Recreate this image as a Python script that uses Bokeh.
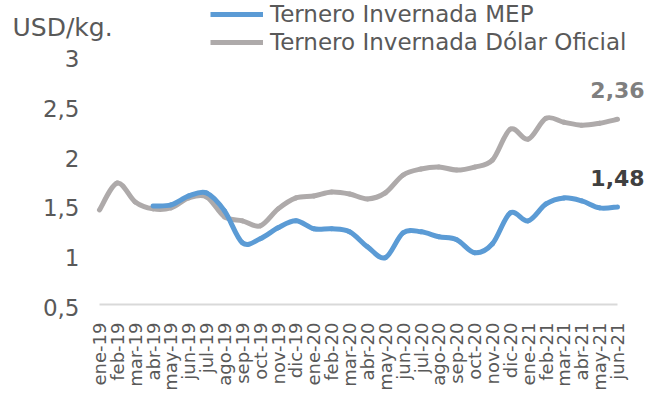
from bokeh.plotting import figure
from bokeh.models import Range1d, Legend, LegendItem, Label, ColumnDataSource
from bokeh.core.properties import value
from bokeh.embed import file_html
from bokeh.resources import INLINE
import math

months = ["ene-19", "feb-19", "mar-19", "abr-19", "may-19", "jun-19", "jul-19", "ago-19",
          "sep-19", "oct-19", "nov-19", "dic-19", "ene-20", "feb-20", "mar-20", "abr-20",
          "may-20", "jun-20", "jul-20", "ago-20", "sep-20", "oct-20", "nov-20", "dic-20",
          "ene-21", "feb-21", "mar-21", "abr-21", "may-21", "jun-21"]
oficial = [1.45, 1.72, 1.53, 1.46, 1.47, 1.57, 1.58, 1.38, 1.34, 1.29, 1.46, 1.57,
           1.59, 1.63, 1.61, 1.56, 1.62, 1.80, 1.86, 1.88, 1.85, 1.88, 1.95, 2.26,
           2.16, 2.37, 2.33, 2.30, 2.32, 2.36]
mep = [None, None, None, 1.49, 1.50, 1.59, 1.62, 1.44, 1.12, 1.16, 1.27, 1.34,
       1.26, 1.26, 1.23, 1.08, 0.97, 1.22, 1.23, 1.18, 1.15, 1.02, 1.11, 1.42,
       1.34, 1.51, 1.57, 1.54, 1.47, 1.48]
y_ticks = [0.5, 1, 1.5, 2, 2.5, 3]
series_names = ["Ternero Invernada MEP", "Ternero Invernada Dólar Oficial"]
unit_label = "USD/kg."

BLUE = "#5B9BD5"
GREY = "#AEAAAA"
TXT = "#595959"
FONT = "DejaVu Sans"

# layout (figure pixels)
W, H = 644, 394
FL, FR, FT, FB = 99, 617, 55, 304   # plot area edges

n = len(months)
xpp = (n - 1) / (FR - FL)
ypp = (y_ticks[-1] - y_ticks[0]) / (FB - FT)
x_range = Range1d(0 - FL * xpp, (n - 1) + (W - FR) * xpp)
y_range = Range1d(y_ticks[0] - (H - FB) * ypp, y_ticks[-1] + FT * ypp)

p = figure(width=W, height=H, output_backend="svg", toolbar_location=None,
           x_range=x_range, y_range=y_range, x_axis_location=None, y_axis_location=None,
           min_border=0)
p.outline_line_color = None
p.grid.visible = False
p.background_fill_color = "white"
p.border_fill_color = "white"

# x axis line
p.segment(x0=[0], y0=[y_ticks[0]], x1=[n - 1], y1=[y_ticks[0]], line_color="#D9D9D9", line_width=2)


def bezier_source(xs, ys):
    m = len(xs)
    d = dict(x0=[], y0=[], x1=[], y1=[], cx0=[], cy0=[], cx1=[], cy1=[])
    for i in range(m - 1):
        pm = i - 1 if i > 0 else i
        pp = i + 2 if i + 2 < m else i + 1
        d["x0"].append(xs[i]); d["y0"].append(ys[i])
        d["x1"].append(xs[i + 1]); d["y1"].append(ys[i + 1])
        d["cx0"].append(xs[i] + (xs[i + 1] - xs[pm]) / 6)
        d["cy0"].append(ys[i] + (ys[i + 1] - ys[pm]) / 6)
        d["cx1"].append(xs[i + 1] - (xs[pp] - xs[i]) / 6)
        d["cy1"].append(ys[i + 1] - (ys[pp] - ys[i]) / 6)
    return ColumnDataSource(d)


def draw(values, color):
    xs = [i for i, v in enumerate(values) if v is not None]
    ys = [v for v in values if v is not None]
    p.bezier(x0="x0", y0="y0", x1="x1", y1="y1", cx0="cx0", cy0="cy0", cx1="cx1", cy1="cy1",
             source=bezier_source(xs, ys), line_color=color, line_width=5, line_cap="round")
    # single-point line used as the legend swatch (draws nothing on the plot)
    return p.line(x=[xs[-1]], y=[ys[-1]], line_color=color, line_width=5)


r_of = draw(oficial, GREY)
r_mep = draw(mep, BLUE)

# y tick labels
p.text(x=[0] * len(y_ticks), y=y_ticks, text=[f"{t:g}".replace(".", ",") for t in y_ticks],
       x_offset=-20, y_offset=3, text_align="right", text_baseline="middle",
       text_font=value(FONT), text_font_size="23px", text_color=TXT)

# x tick labels
p.text(x=list(range(n)), y=[y_ticks[0]] * n, text=months, angle=math.pi / 2,
       y_offset=18, text_align="right", text_baseline="middle",
       text_font=value(FONT), text_font_size="18px", text_color=TXT)

# end labels
last = n - 1
lab_src = ColumnDataSource(dict(x=[last, last], y=[oficial[-1], mep[-1]],
                                text=[f"{oficial[-1]:.2f}".replace(".", ","),
                                      f"{mep[-1]:.2f}".replace(".", ",")],
                                color=["#7F7F7F", "#404040"]))
p.text(x="x", y="y", text="text", source=lab_src, text_color="color",
       text_font=value(FONT), text_font_style="bold", text_font_size="22px",
       text_align="center", text_baseline="middle", y_offset=-29)

# unit title
p.add_layout(Label(x=12, y=H - 27, x_units="screen", y_units="screen", text=unit_label,
                   text_font=FONT, text_font_size="25px", text_color=TXT,
                   text_baseline="middle", text_align="left"))

# legends (one per row for exact row placement)
ROW = 28
for (label, rend, cy) in [(series_names[0], r_mep, 14), (series_names[1], r_of, 42)]:
    lg = Legend(items=[LegendItem(label=label, renderers=[rend])],
                location=(210, H - (cy + ROW / 2)), orientation="vertical",
                glyph_width=53, glyph_height=ROW, label_height=ROW, label_width=10,
                spacing=0, padding=0, margin=0, label_standoff=7,
                label_text_font=FONT, label_text_font_size="23px", label_text_color=TXT,
                background_fill_alpha=0, border_line_alpha=0)
    p.add_layout(lg, "center")

open("out.html", "w").write(file_html(p, INLINE))
